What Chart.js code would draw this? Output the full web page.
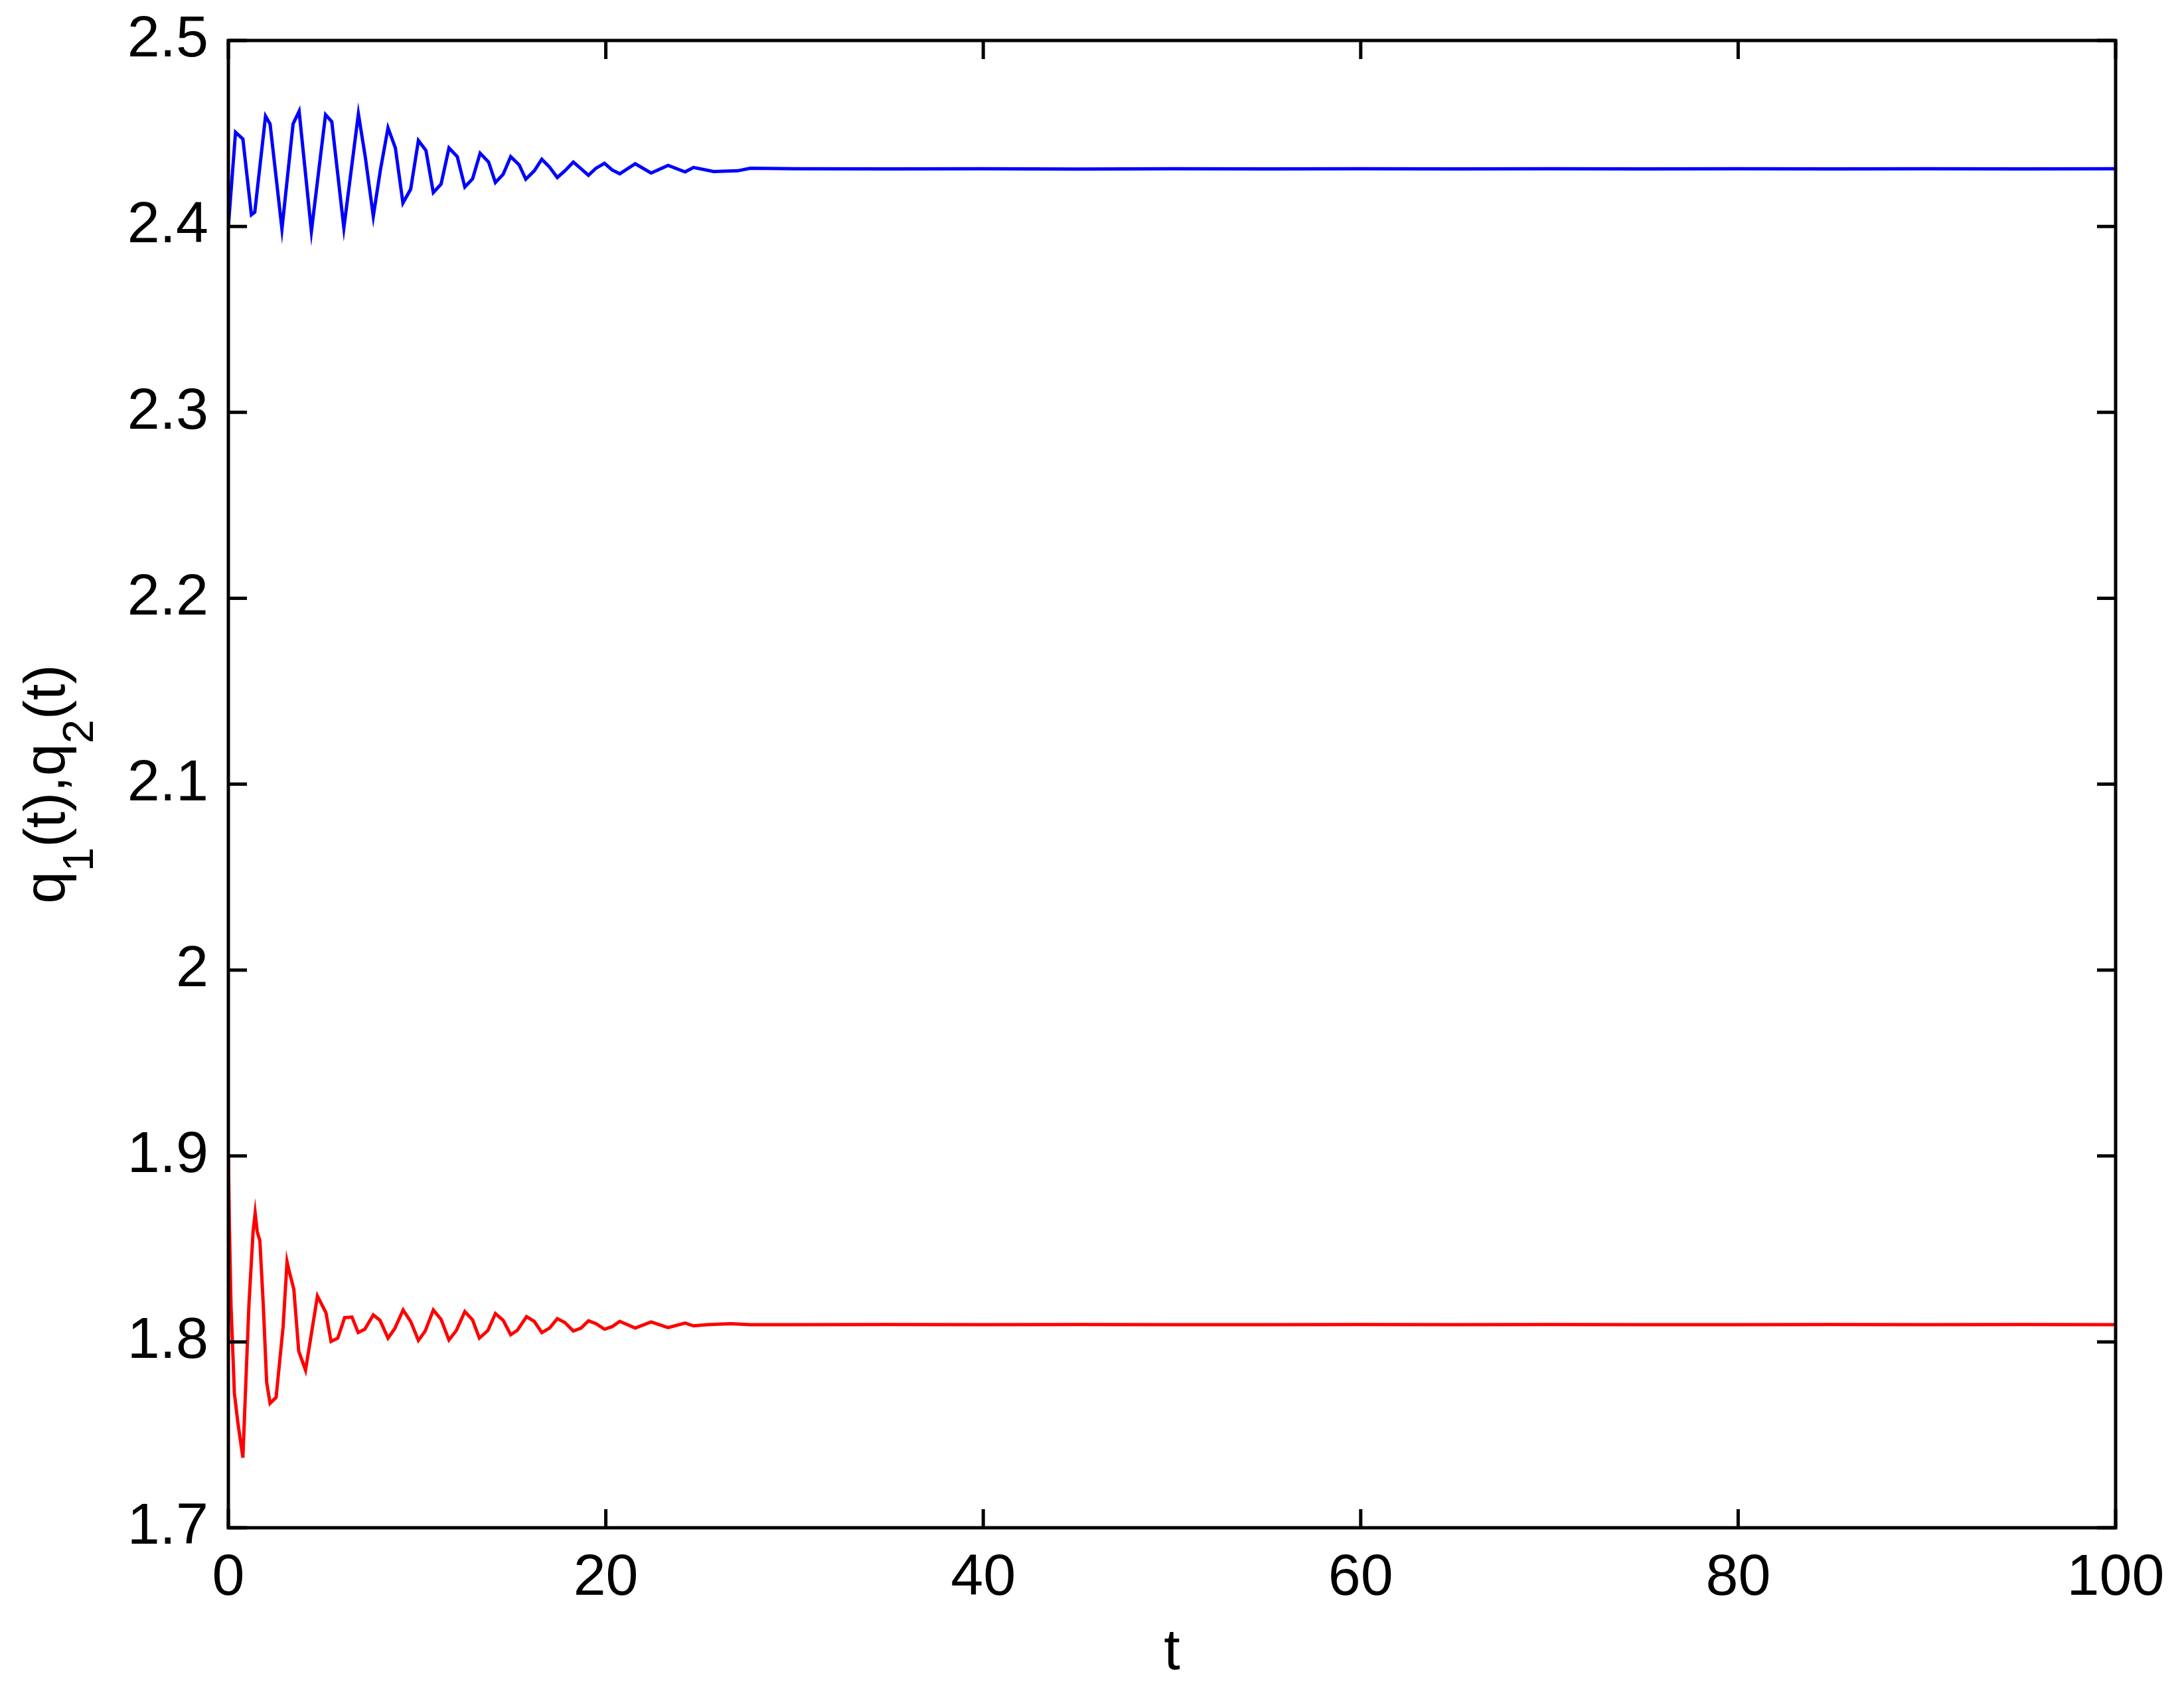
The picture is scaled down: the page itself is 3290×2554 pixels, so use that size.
<!DOCTYPE html>
<html>
<head>
<meta charset="utf-8">
<title>q1(t), q2(t)</title>
<script src="https://cdn.jsdelivr.net/npm/chart.js@4/dist/chart.umd.min.js"></script>
<style>
    html, body { margin: 0; padding: 0; background: #fff; }
    #wrap { width: 3290px; height: 2554px; }
</style>
</head>
<body>
<div id="wrap"><canvas id="chart" width="3290" height="2554"></canvas></div>
<script>
// Series data
const timeQ1 = [0, 0.38, 0.77, 1.22, 1.40, 1.97, 2.21, 2.84, 3.43, 3.75, 4.40, 5.15, 5.48, 6.12, 6.89, 7.26, 7.68, 8.05, 8.46, 8.85, 9.25, 9.66,
    10.07, 10.47, 10.86, 11.27, 11.69, 12.13, 12.53, 12.94, 13.34, 13.79, 14.15, 14.56, 14.96, 15.41, 15.76, 16.21, 16.61, 17.02,
    17.43, 17.83, 18.28, 18.69, 19.08, 19.48, 19.93, 20.34, 20.74, 21.56, 22.40, 23.30, 24.20, 24.65, 25.72, 26.98, 27.66,
    30, 35, 40, 45, 50, 55, 60, 65, 70, 75, 80, 85, 90, 95, 100];
const valuesQ1 = [2.4000, 2.4506, 2.4470, 2.4063, 2.4077, 2.4593, 2.4551, 2.3986, 2.4551, 2.4619, 2.3974, 2.4601, 2.4563, 2.3992, 2.4605, 2.4370, 2.4054, 2.4300, 2.4530, 2.4422, 2.4126, 2.4200,
    2.4462, 2.4408, 2.4182, 2.4227, 2.4422, 2.4375, 2.4212, 2.4256, 2.4394, 2.4346, 2.4236, 2.4280, 2.4375, 2.4331, 2.4254, 2.4299, 2.4361, 2.4319,
    2.4263, 2.4299, 2.4346, 2.4310, 2.4275, 2.4313, 2.4339, 2.4303, 2.4283, 2.4337, 2.4287, 2.4328, 2.4293, 2.4317, 2.4295, 2.4299, 2.4313,
    2.4310, 2.4309, 2.4310, 2.4308, 2.4310, 2.4309, 2.4310, 2.4309, 2.4310, 2.4309, 2.4310, 2.4309, 2.4310, 2.4309, 2.4310];

const timeQ2 = [0, 0.05, 0.14, 0.23, 0.32, 0.50, 0.77, 0.95, 1.09, 1.31, 1.42, 1.53, 1.67, 1.85, 2.03, 2.21, 2.53, 2.90, 3.11, 3.20, 3.47, 3.73, 4.09,
    4.72, 5.17, 5.44, 5.80, 6.16, 6.55, 6.88, 7.23, 7.68, 8.04, 8.46, 8.81, 9.26, 9.66, 10.07, 10.43, 10.86, 11.27, 11.69, 12.08,
    12.53, 12.94, 13.30, 13.75, 14.15, 14.56, 14.96, 15.31, 15.80, 16.21, 16.61, 17.02, 17.43, 17.83, 18.28, 18.69, 19.08, 19.48,
    19.93, 20.34, 20.74, 21.56, 22.40, 23.30, 24.20, 24.65, 25.37, 26.63, 27.66,
    30, 35, 40, 45, 50, 55, 60, 65, 70, 75, 80, 85, 90, 95, 100];
const valuesQ2 = [1.9000, 1.8651, 1.8199, 1.7961, 1.7723, 1.7568, 1.7377, 1.7842, 1.8199, 1.8592, 1.8693, 1.8592, 1.8544, 1.8199, 1.7782, 1.7669, 1.7701, 1.8080, 1.8431, 1.8390, 1.8282, 1.7949, 1.7848,
    1.8246, 1.8157, 1.8002, 1.8020, 1.8130, 1.8133, 1.8050, 1.8068, 1.8145, 1.8115, 1.8020, 1.8070, 1.8171, 1.8110, 1.8008, 1.8058, 1.8171, 1.8121, 1.8010, 1.8061,
    1.8163, 1.8118, 1.8020, 1.8061, 1.8152, 1.8116, 1.8038, 1.8062, 1.8136, 1.8110, 1.8050, 1.8074, 1.8125, 1.8104, 1.8058, 1.8074, 1.8113, 1.8098,
    1.8068, 1.8082, 1.8110, 1.8074, 1.8107, 1.8077, 1.8101, 1.8086, 1.8092, 1.8098, 1.8092,
    1.8092, 1.8093, 1.8092, 1.8093, 1.8092, 1.8092, 1.8093, 1.8092, 1.8093, 1.8092, 1.8092, 1.8093, 1.8092, 1.8093, 1.8092];

const xTickLabels = ['0', '20', '40', '60', '80', '100'];
const yTickLabels = ['1.7', '1.8', '1.9', '2', '2.1', '2.2', '2.3', '2.4', '2.5'];

const FONT = "'Liberation Sans', Arial, Helvetica, sans-serif";
const FONT_SIZE = 88;

function toPoints(ts, vs) {
    return ts.map((t, i) => ({ x: t, y: vs[i] }));
}

// Box frame, inward ticks on all four sides, axis titles
const framePlugin = {
    id: 'matlabFrame',
    afterDatasetsDraw(chart) {
        const { ctx, chartArea: a, scales } = chart;
        const tickLen = 28;
        ctx.save();
        ctx.strokeStyle = '#000';
        ctx.lineWidth = 5;
        ctx.lineCap = 'butt';
        ctx.beginPath();
        scales.x.ticks.forEach(t => {
            const px = scales.x.getPixelForValue(t.value);
            ctx.moveTo(px, a.bottom); ctx.lineTo(px, a.bottom - tickLen);
            ctx.moveTo(px, a.top); ctx.lineTo(px, a.top + tickLen);
        });
        scales.y.ticks.forEach(t => {
            const py = scales.y.getPixelForValue(t.value);
            ctx.moveTo(a.left, py); ctx.lineTo(a.left + tickLen, py);
            ctx.moveTo(a.right, py); ctx.lineTo(a.right - tickLen, py);
        });
        ctx.stroke();
        ctx.strokeRect(a.left, a.top, a.right - a.left, a.bottom - a.top);

        // x title
        ctx.fillStyle = '#000';
        ctx.font = FONT_SIZE + 'px ' + FONT;
        ctx.textAlign = 'center';
        ctx.textBaseline = 'alphabetic';
        ctx.fillText('t', (a.left + a.right) / 2, 2515);

        // y title with subscripts, rotated
        const parts = [
            { s: 'q', sub: false }, { s: '1', sub: true }, { s: '(t),q', sub: false },
            { s: '2', sub: true }, { s: '(t)', sub: false }
        ];
        const mainFont = FONT_SIZE + 'px ' + FONT;
        const subFont = '65px ' + FONT;
        let total = 0;
        parts.forEach(p => {
            ctx.font = p.sub ? subFont : mainFont;
            p.w = ctx.measureText(p.s).width;
            total += p.w;
        });
        ctx.translate(97, (a.top + a.bottom) / 2);
        ctx.rotate(-Math.PI / 2);
        ctx.textAlign = 'left';
        let cx = -total / 2;
        parts.forEach(p => {
            ctx.font = p.sub ? subFont : mainFont;
            ctx.fillText(p.s, cx, p.sub ? 43 : 0);
            cx += p.w;
        });
        ctx.restore();
    }
};

new Chart(document.getElementById('chart'), {
    type: 'line',
    data: {
        datasets: [
            {
                label: 'q1(t)',
                data: toPoints(timeQ1, valuesQ1),
                borderColor: '#0000ff',
                borderWidth: 5,
                pointRadius: 0,
                tension: 0,
                fill: false
            },
            {
                label: 'q2(t)',
                data: toPoints(timeQ2, valuesQ2),
                borderColor: '#ff0000',
                borderWidth: 5,
                pointRadius: 0,
                tension: 0,
                fill: false
            }
        ]
    },
    options: {
        responsive: false,
        animation: false,
        events: [],
        layout: { padding: { left: 0, top: 61, right: 103, bottom: 0 } },
        plugins: {
            legend: { display: false },
            tooltip: { enabled: false }
        },
        scales: {
            x: {
                type: 'linear',
                min: 0,
                max: 100,
                grid: { display: false, drawTicks: false },
                border: { display: false },
                ticks: {
                    stepSize: 20,
                    padding: 24,
                    color: '#000',
                    maxRotation: 0,
                    font: { family: FONT, size: FONT_SIZE },
                    callback: (v, i) => xTickLabels[i]
                },
                afterFit: (scale) => {
                    scale.height = 252;
                    scale.paddingLeft = 0;
                    scale.paddingRight = 0;
                }
            },
            y: {
                type: 'linear',
                min: 1.7,
                max: 2.5,
                grid: { display: false, drawTicks: false },
                border: { display: false },
                ticks: {
                    stepSize: 0.1,
                    padding: 30,
                    color: '#000',
                    font: { family: FONT, size: FONT_SIZE },
                    callback: (v, i) => yTickLabels[i]
                },
                afterFit: (scale) => {
                    scale.width = 344;
                    scale.paddingTop = 0;
                    scale.paddingBottom = 0;
                }
            }
        }
    },
    plugins: [framePlugin]
});
</script>
</body>
</html>
